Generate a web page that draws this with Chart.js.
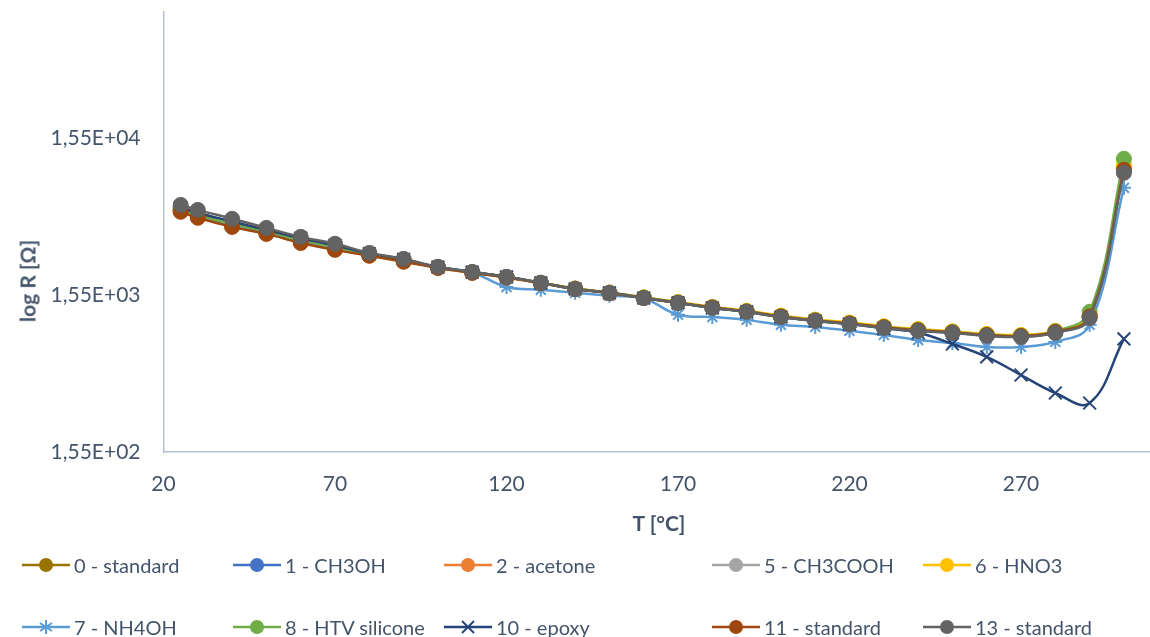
<!DOCTYPE html>
<html lang="en">
<head>
<meta charset="UTF-8" />
<title>log R vs T</title>
<script src="https://cdn.jsdelivr.net/npm/chart.js"></script>
<style>
  body { margin: 0; background: #fff; font-family: Lato, "Liberation Sans", sans-serif; color: #44546a; }
  .wrap { position: relative; width: 1150px; height: 637px; overflow: hidden; }
  canvas { position: absolute; left: 0; top: 0; }
  .ytitle { position: absolute; left: 27px; top: 281px; transform: translate(-50%, -50%) rotate(-90deg); font-weight: bold; font-size: 21px; white-space: nowrap; }
  .xtitle { position: absolute; left: 659px; top: 522px; transform: translate(-50%, -50%); font-weight: bold; font-size: 21px; white-space: nowrap; }
  .legend-item { position: absolute; display: flex; align-items: center; font-size: 20px; white-space: nowrap; transform: translateY(-50%); }
  .legend-item svg { margin-right: 4px; }
</style>
</head>
<body>
<div class="wrap">
  <canvas id="chart" width="1150" height="637"></canvas>
  <div class="ytitle">log R [Ω]</div>
  <div class="xtitle">T [°C]</div>
  <div id="legend"></div>
</div>

<script>
  // temperatures (°C)
  const temps = [25, 30, 40, 50, 60, 70, 80, 90, 100, 110, 120, 130, 140, 150, 160, 170, 180, 190, 200, 210, 220, 230, 240, 250, 260, 270, 280, 290, 300];

  // resistance per sample (Ω)
  const r0Standard  = [5350, 4900, 4300, 3880, 3400, 3070, 2790, 2560, 2320, 2160, 2010, 1850, 1700, 1600, 1490, 1385, 1290, 1215, 1130, 1065, 1020, 965, 925, 897, 862, 850, 902, 1135, 9900];
  const r1Ch3oh     = [5600, 5150, 4500, 3980, 3500, 3150, 2810, 2590, 2330, 2165, 2015, 1850, 1695, 1598, 1485, 1382, 1285, 1212, 1125, 1062, 1015, 960, 918, 892, 855, 842, 895, 1120, 9500];
  const r2Acetone   = [5280, 4850, 4250, 3820, 3350, 3030, 2770, 2540, 2310, 2150, 2010, 1850, 1700, 1600, 1490, 1390, 1295, 1220, 1135, 1070, 1025, 970, 930, 900, 868, 855, 905, 1140, 10000];
  const r5Ch3cooh   = [5500, 5050, 4450, 3950, 3480, 3130, 2800, 2580, 2330, 2165, 2015, 1850, 1695, 1598, 1485, 1383, 1286, 1213, 1127, 1063, 1017, 962, 920, 893, 857, 844, 897, 1125, 9600];
  const r6Hno3      = [5400, 4950, 4350, 3900, 3430, 3100, 2800, 2570, 2330, 2165, 2015, 1852, 1700, 1605, 1495, 1395, 1300, 1230, 1145, 1080, 1035, 980, 940, 910, 875, 862, 915, 1150, 10400];
  const r7Nh4oh     = [5300, 4850, 4250, 3830, 3370, 3050, 2780, 2550, 2320, 2150, 1740, 1670, 1600, 1530, 1470, 1160, 1120, 1075, 1000, 970, 915, 862, 800, 767, 723, 723, 778, 1000, 7450];
  const r8Silicone  = [5450, 5000, 4400, 3920, 3450, 3110, 2800, 2575, 2330, 2165, 2015, 1850, 1698, 1600, 1490, 1388, 1290, 1218, 1132, 1068, 1022, 968, 928, 900, 865, 852, 910, 1210, 11400];
  const r10Epoxy    = [5560, 5150, 4550, 4020, 3560, 3210, 2840, 2610, 2330, 2165, 2020, 1850, 1690, 1598, 1480, 1380, 1283, 1208, 1122, 1058, 1010, 950, 890, 755, 625, 479, 368, 318, 813];
  const r11Standard = [5240, 4800, 4200, 3790, 3320, 3000, 2750, 2520, 2300, 2140, 2000, 1840, 1690, 1590, 1480, 1380, 1290, 1215, 1130, 1065, 1020, 965, 925, 895, 860, 848, 900, 1130, 9700];
  const r13Standard = [5800, 5390, 4730, 4140, 3630, 3280, 2870, 2630, 2340, 2170, 2020, 1850, 1690, 1600, 1480, 1380, 1280, 1210, 1120, 1060, 1010, 955, 914, 888, 850, 837, 888, 1106, 9280];

  const seriesNames = ["0 - standard", "1 - CH3OH", "2 - acetone", "5 - CH3COOH", "6 - HNO3",
                       "7 - NH4OH", "8 - HTV silicone", "10 - epoxy", "11 - standard", "13 - standard"];
  const seriesValues = [r0Standard, r1Ch3oh, r2Acetone, r5Ch3cooh, r6Hno3,
                        r7Nh4oh, r8Silicone, r10Epoxy, r11Standard, r13Standard];

  const yTicks = [155, 1550, 15500];
  const xTicks = [20, 70, 120, 170, 220, 270];

  // styles
  const colors = ["#997300", "#4472C4", "#ED7D31", "#A5A5A5", "#FFC000",
                  "#5B9BD5", "#70AD47", "#264478", "#9E480E", "#636363"];
  const markers = ["circle", "circle", "circle", "circle", "circle",
                   "star", "circle", "crossRot", "circle", "circle"];

  function sci(v) {
    const e = Math.floor(Math.log10(v) + 1e-9);
    const m = v / Math.pow(10, e);
    return m.toFixed(2).replace('.', ',') + 'E' + (e < 0 ? '-' : '+') + String(Math.abs(e)).padStart(2, '0');
  }

  const datasets = seriesNames.map((name, i) => {
    const isCircle = markers[i] === 'circle';
    return {
      label: name,
      data: temps.map((t, j) => ({ x: t, y: seriesValues[i][j] })),
      borderColor: colors[i],
      backgroundColor: colors[i],
      borderWidth: 2.5,
      tension: 0.4,
      pointStyle: markers[i],
      pointRadius: isCircle ? 7.5 : (markers[i] === 'star' ? 7 : 9),
      pointBorderWidth: isCircle ? 1 : 2,
      pointBorderColor: colors[i],
      pointBackgroundColor: colors[i],
      order: seriesNames.length - i
    };
  });

  const tickFont = { family: 'Lato, "Liberation Sans", sans-serif', size: 21 };
  const axisColor = '#b7c1d5';

  new Chart(document.getElementById('chart').getContext('2d'), {
    type: 'line',
    data: { datasets: datasets },
    options: {
      responsive: false,
      animation: false,
      layout: { autoPadding: false, padding: { top: 12, bottom: 135, left: 0, right: 0 } },
      plugins: { legend: { display: false }, tooltip: { enabled: false } },
      scales: {
        x: {
          type: 'linear',
          min: 20,
          max: 307.6,
          afterBuildTicks: s => { s.ticks = xTicks.map(v => ({ value: v })); },
          afterFit: s => { s.height = 50; s.paddingLeft = 0; s.paddingRight = 0; },
          grid: { display: false, drawTicks: false },
          border: { display: true, color: axisColor, width: 1.5 },
          ticks: { color: '#44546a', font: tickFont, padding: 20, maxRotation: 0 }
        },
        y: {
          type: 'logarithmic',
          min: 155,
          max: 98000,
          afterBuildTicks: s => { s.ticks = yTicks.map(v => ({ value: v })); },
          afterFit: s => { s.width = 163.5; s.paddingTop = 0; s.paddingBottom = 0; },
          grid: { display: false, drawTicks: false },
          border: { display: true, color: axisColor, width: 1.5 },
          ticks: { color: '#44546a', font: tickFont, padding: 23, callback: v => sci(v) }
        }
      }
    }
  });

  // legend, laid out in Excel's column grid
  const legendCols = [22, 233, 444, 712, 923];
  const legendRows = [565, 627];
  const legend = document.getElementById('legend');
  seriesNames.forEach((name, i) => {
    const c = colors[i];
    let mark;
    if (markers[i] === 'circle') {
      mark = `<circle cx="24" cy="10" r="7" fill="${c}"/>`;
    } else if (markers[i] === 'star') {
      mark = `<g stroke="${c}" stroke-width="2"><line x1="24" y1="3" x2="24" y2="17"/><line x1="18" y1="6" x2="30" y2="14"/><line x1="18" y1="14" x2="30" y2="6"/><line x1="17" y1="10" x2="31" y2="10"/></g>`;
    } else {
      mark = `<g stroke="${c}" stroke-width="2"><line x1="18" y1="4" x2="30" y2="16"/><line x1="18" y1="16" x2="30" y2="4"/></g>`;
    }
    const item = document.createElement('div');
    item.className = 'legend-item';
    item.style.left = legendCols[i % 5] + 'px';
    item.style.top = legendRows[Math.floor(i / 5)] + 'px';
    item.innerHTML = `<svg width="48" height="20"><line x1="0" y1="10" x2="48" y2="10" stroke="${c}" stroke-width="2.5"/>${mark}</svg><span>${name}</span>`;
    legend.appendChild(item);
  });
</script>
</body>
</html>
